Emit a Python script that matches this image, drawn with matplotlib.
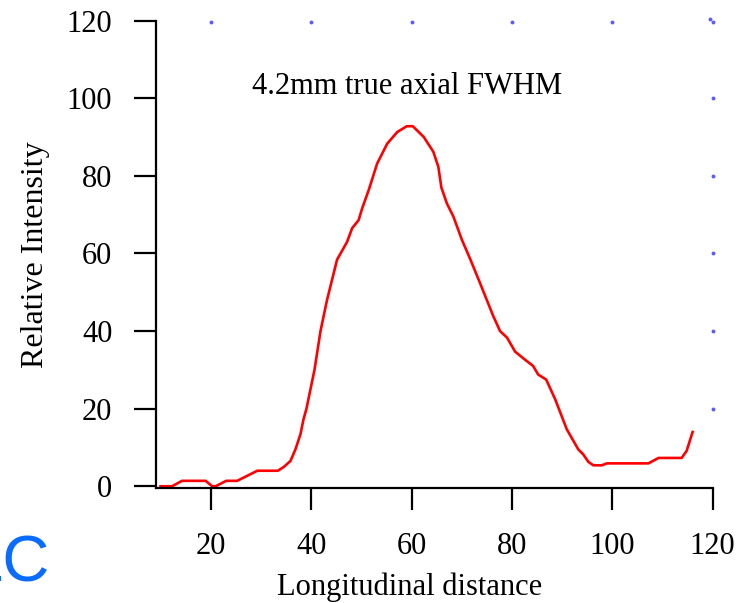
# axial profile plot, red trace with sparse blue dot frame

import matplotlib as mpl
mpl.use('Agg')
import matplotlib.pyplot as plt

# trace (longitudinal distance, relative intensity)
dist = [9.9, 12.2, 14.2, 18.9, 20.2, 20.9, 23.0, 25.2, 29.2, 33.3, 34.5, 35.8,
        36.8, 37.8, 38.4, 39.0, 40.6, 41.8, 43.1, 45.1, 47.1, 48.1, 49.4, 50.1,
        51.4, 53.1, 55.1, 57.1, 59.0, 60.2, 62.4, 64.3, 65.3, 65.9, 67.0, 68.3,
        70.0, 71.7, 73.6, 76.2, 77.6, 79.0, 80.6, 82.6, 84.2, 85.2, 86.8, 88.6,
        90.9, 93.2, 94.2, 95.2, 96.2, 97.9, 98.9, 107.2, 109.2, 113.8, 114.8, 116.0]
intensity = [0.0, 0.0, 1.4, 1.4, 0.0, 0.0, 1.4, 1.4, 4.0, 4.0, 5.0, 6.5,
             9.5, 13.4, 17.2, 20.0, 30.0, 40.0, 48.0, 58.4, 63.0, 66.5, 68.6, 71.6,
             76.3, 83.2, 88.3, 91.3, 92.8, 92.8, 90.0, 86.2, 82.3, 77.0, 72.9, 69.5,
             63.5, 58.4, 52.4, 44.0, 40.0, 38.3, 34.7, 32.6, 31.0, 28.8, 27.5, 22.4,
             14.7, 9.5, 8.2, 6.3, 5.4, 5.4, 5.9, 5.9, 7.3, 7.3, 9.1, 14.0]

# sparse dots along top and right edge
top_dot_x = [20, 40, 60, 80, 100, 120]
right_dot_y = [20, 40, 60, 80, 100]

xticks = [20, 40, 60, 80, 100, 120]
yticks = [0, 20, 40, 60, 80, 100, 120]

mpl.rc('font', family='Liberation Serif', size=22)

fig = plt.figure(figsize=(7.38, 6.03), dpi=100)
ax = fig.add_axes([0.2114, 0.1907, 0.7543, 0.7750])

ax.plot(dist, intensity, color='#ff0000', linewidth=1.9)

dot_col = '#5a5aff'
ax.plot(top_dot_x, [119.6] * len(top_dot_x), 'o', color=dot_col, markersize=2.8,
        markeredgewidth=0, clip_on=False)
ax.plot([120] * len(right_dot_y), right_dot_y, 'o', color=dot_col, markersize=2.8,
        markeredgewidth=0, clip_on=False)
ax.plot([119.4], [120.4], 'o', color=dot_col, markersize=2.8,
        markeredgewidth=0, clip_on=False)

ax.set_xlim(9, 120)
ax.set_ylim(-0.45, 120)
ax.set_xticks(xticks)
ax.set_yticks(yticks)

for s in ['top', 'right']:
    ax.spines[s].set_visible(False)
for s in ['left', 'bottom']:
    ax.spines[s].set_linewidth(1.6)

ax.tick_params(axis='both', direction='out', length=15.5, width=1.6, pad=16, labelsize=22)

ax.set_xlabel("Longitudinal distance", fontsize=22)
ax.xaxis.set_label_coords(0.455, -0.181)
ax.set_ylabel("Relative Intensity", fontsize=23, labelpad=12)

ax.text(59.0, 103.0, "4.2mm true axial FWHM", ha='center', va='center', fontsize=22)

fig.text(50 / 738, (603 - 582) / 603, "LC", ha='right', va='baseline',
         family='Liberation Sans', fontsize=47, color='#0a6bff')

plt.savefig("out.png", dpi=100)
